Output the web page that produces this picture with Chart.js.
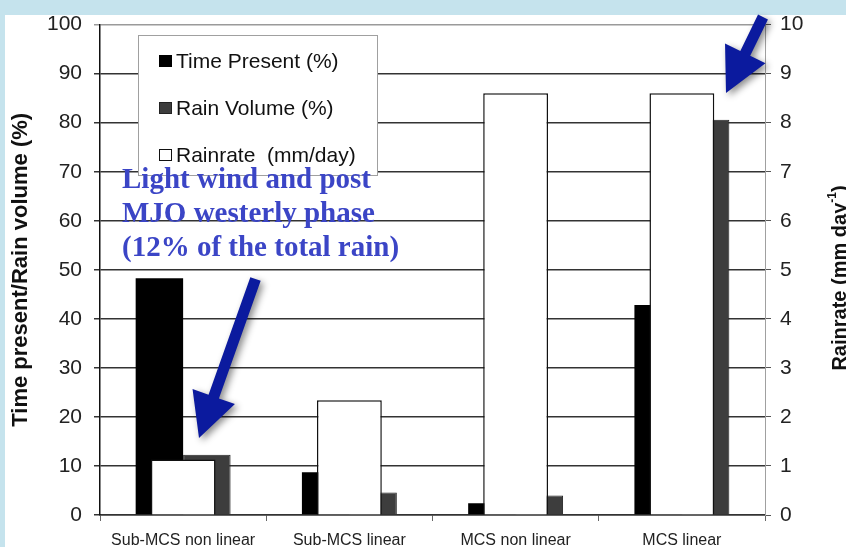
<!DOCTYPE html>
<html>
<head>
<meta charset="utf-8">
<script src="https://cdn.jsdelivr.net/npm/chart.js@4.4.1/dist/chart.umd.min.js"></script>
<style>
  html, body { margin: 0; padding: 0; background: #c5e3ed; overflow: hidden; }
  #chart { display: block; }
</style>
</head>
<body>
<canvas id="chart" width="846" height="547"></canvas>
<script>
const categories = ["Sub-MCS non linear", "Sub-MCS linear", "MCS non linear", "MCS linear"];
const timePresent = [48.3, 8.7, 2.4, 42.8];
const rainVolume = [12.3, 4.6, 4.0, 80.6];
const rainrate = [1.13, 2.34, 8.6, 8.6];
const noteLines = ["Light wind and post", "MJO westerly phase", "(12% of the total rain)"];

const SANS = '"Liberation Sans", Arial, sans-serif';
const SERIF = '"Liberation Serif", "Times New Roman", serif';

// light blue frame + white sheet behind the chart
const pagePlugin = {
  id: "page",
  beforeDraw(chart) {
    const ctx = chart.ctx;
    ctx.save();
    ctx.fillStyle = "#c5e3ed";
    ctx.fillRect(0, 0, chart.width, chart.height);
    ctx.fillStyle = "#ffffff";
    ctx.fillRect(5, 15, chart.width - 5, chart.height - 15);
    ctx.restore();
  }
};

function drawArrow(ctx, tx, ty, px, py, shaftW, headW, headLen) {
  const dx = px - tx, dy = py - ty;
  const len = Math.hypot(dx, dy);
  const ux = dx / len, uy = dy / len;
  const nx = -uy, ny = ux;
  const bx = px - ux * headLen, by = py - uy * headLen;
  ctx.beginPath();
  ctx.moveTo(tx + nx * shaftW / 2, ty + ny * shaftW / 2);
  ctx.lineTo(bx + nx * shaftW / 2, by + ny * shaftW / 2);
  ctx.lineTo(bx + nx * headW / 2, by + ny * headW / 2);
  ctx.lineTo(px, py);
  ctx.lineTo(bx - nx * headW / 2, by - ny * headW / 2);
  ctx.lineTo(bx - nx * shaftW / 2, by - ny * shaftW / 2);
  ctx.lineTo(tx - nx * shaftW / 2, ty - ny * shaftW / 2);
  ctx.closePath();
  ctx.fill();
}

const extrasPlugin = {
  id: "extras",
  afterDraw(chart) {
    const ctx = chart.ctx;
    ctx.save();

    // legend box inside the plot
    const lx = 138, ly = 35, lw = 239, lh = 140;
    ctx.fillStyle = "#ffffff";
    ctx.fillRect(lx, ly, lw, lh);
    ctx.strokeStyle = "#a0a0a0";
    ctx.lineWidth = 1;
    ctx.strokeRect(lx + 0.5, ly + 0.5, lw, lh);
    ctx.font = "21px " + SANS;
    ctx.textBaseline = "middle";
    ctx.textAlign = "left";
    chart.data.datasets.forEach((ds, i) => {
      const cy = 61 + i * 47;
      ctx.fillStyle = ds.backgroundColor;
      ctx.fillRect(159, cy - 6, 13, 12);
      ctx.strokeStyle = ds.borderColor;
      ctx.lineWidth = 1;
      ctx.strokeRect(159.5, cy - 5.5, 12, 11);
      ctx.fillStyle = "#111";
      ctx.fillText(ds.label, 176, cy + 1);
    });

    // right axis title, reading bottom to top, with superscript
    ctx.translate(840, 278);
    ctx.rotate(-Math.PI / 2);
    const main = "Rainrate (mm day";
    const sup = "-1";
    const close = ")";
    ctx.font = "bold 20px " + SANS;
    const w1 = ctx.measureText(main).width;
    const w3 = ctx.measureText(close).width;
    ctx.font = "bold 12px " + SANS;
    const w2 = ctx.measureText(sup).width;
    let x = -(w1 + w2 + w3) / 2;
    ctx.fillStyle = "#111";
    ctx.textBaseline = "middle";
    ctx.font = "bold 20px " + SANS;
    ctx.fillText(main, x, 0);
    x += w1;
    ctx.font = "bold 12px " + SANS;
    ctx.fillText(sup, x, -7);
    x += w2;
    ctx.font = "bold 20px " + SANS;
    ctx.fillText(close, x, 0);
    ctx.setTransform(1, 0, 0, 1, 0, 0);

    // annotation text
    ctx.font = "bold 29px " + SERIF;
    ctx.fillStyle = "#3b45c6";
    ctx.textBaseline = "alphabetic";
    noteLines.forEach((t, i) => ctx.fillText(t, 122, 188 + i * 34));

    // arrows with a soft shadow
    ctx.fillStyle = "#0b1a9e";
    ctx.shadowColor = "rgba(0,0,0,0.45)";
    ctx.shadowBlur = 7;
    ctx.shadowOffsetX = 3;
    ctx.shadowOffsetY = 3;
    drawArrow(ctx, 255.5, 279, 199, 438, 11, 45, 44);
    drawArrow(ctx, 763, 17, 726, 93, 11, 45, 44);
    ctx.restore();
  }
};

const chart = new Chart(document.getElementById("chart"), {
  type: "bar",
  plugins: [pagePlugin, extrasPlugin],
  data: {
    labels: categories,
    datasets: [
      {
        label: "Time Present (%)",
        data: timePresent,
        backgroundColor: "#000000",
        borderColor: "#000000",
        borderWidth: 0,
        yAxisID: "y",
        order: 2,
        categoryPercentage: 0.571,
        barPercentage: 1
      },
      {
        label: "Rain Volume (%)",
        data: rainVolume,
        backgroundColor: "#3d3d3d",
        borderColor: "#222222",
        borderWidth: 1,
        yAxisID: "y",
        order: 3,
        categoryPercentage: 0.571,
        barPercentage: 1
      },
      {
        label: "Rainrate  (mm/day)",
        data: rainrate,
        backgroundColor: "#ffffff",
        borderColor: "#111111",
        borderWidth: 1.5,
        yAxisID: "y2",
        order: 1,
        grouped: false,
        categoryPercentage: 0.39,
        barPercentage: 1
      }
    ]
  },
  options: {
    responsive: false,
    animation: false,
    layout: { padding: { top: 20, left: 0, right: 0, bottom: 0 } },
    plugins: {
      legend: { display: false },
      tooltip: { enabled: false }
    },
    scales: {
      x: {
        type: "category",
        offset: true,
        grid: {
          offset: true,
          drawOnChartArea: false,
          drawTicks: true,
          tickLength: 6,
          color: "#666666"
        },
        border: { display: true, color: "#333333", width: 1.5 },
        ticks: {
          font: { family: SANS, size: 16 },
          color: "#222222",
          padding: 10,
          autoSkip: false,
          maxRotation: 0
        },
        afterFit(scale) { scale.height = 32; }
      },
      y: {
        position: "left",
        min: 0,
        max: 100,
        ticks: {
          stepSize: 10,
          font: { family: SANS, size: 21 },
          color: "#222222",
          padding: 12
        },
        grid: {
          tickLength: 6,
          lineWidth: 1.5,
          color: (c) => (c.tick && c.tick.value === 100 ? "#9a9a9a" : "#333333")
        },
        border: { display: true, color: "#111111", width: 1.5 },
        title: {
          display: true,
          text: "Time present/Rain volume (%)",
          font: { family: SANS, size: 22, weight: "bold" },
          color: "#111111",
          padding: { top: 8, bottom: 0 }
        },
        afterFit(scale) { scale.width = 100; }
      },
      y2: {
        position: "right",
        min: 0,
        max: 10,
        ticks: {
          stepSize: 1,
          font: { family: SANS, size: 21 },
          color: "#222222",
          padding: 9
        },
        grid: {
          drawOnChartArea: false,
          tickLength: 6,
          lineWidth: 1,
          color: "#555555"
        },
        border: { display: true, color: "#a0a0a0", width: 1 },
        afterFit(scale) { scale.width = 81; }
      }
    }
  }
});
</script>
</body>
</html>
